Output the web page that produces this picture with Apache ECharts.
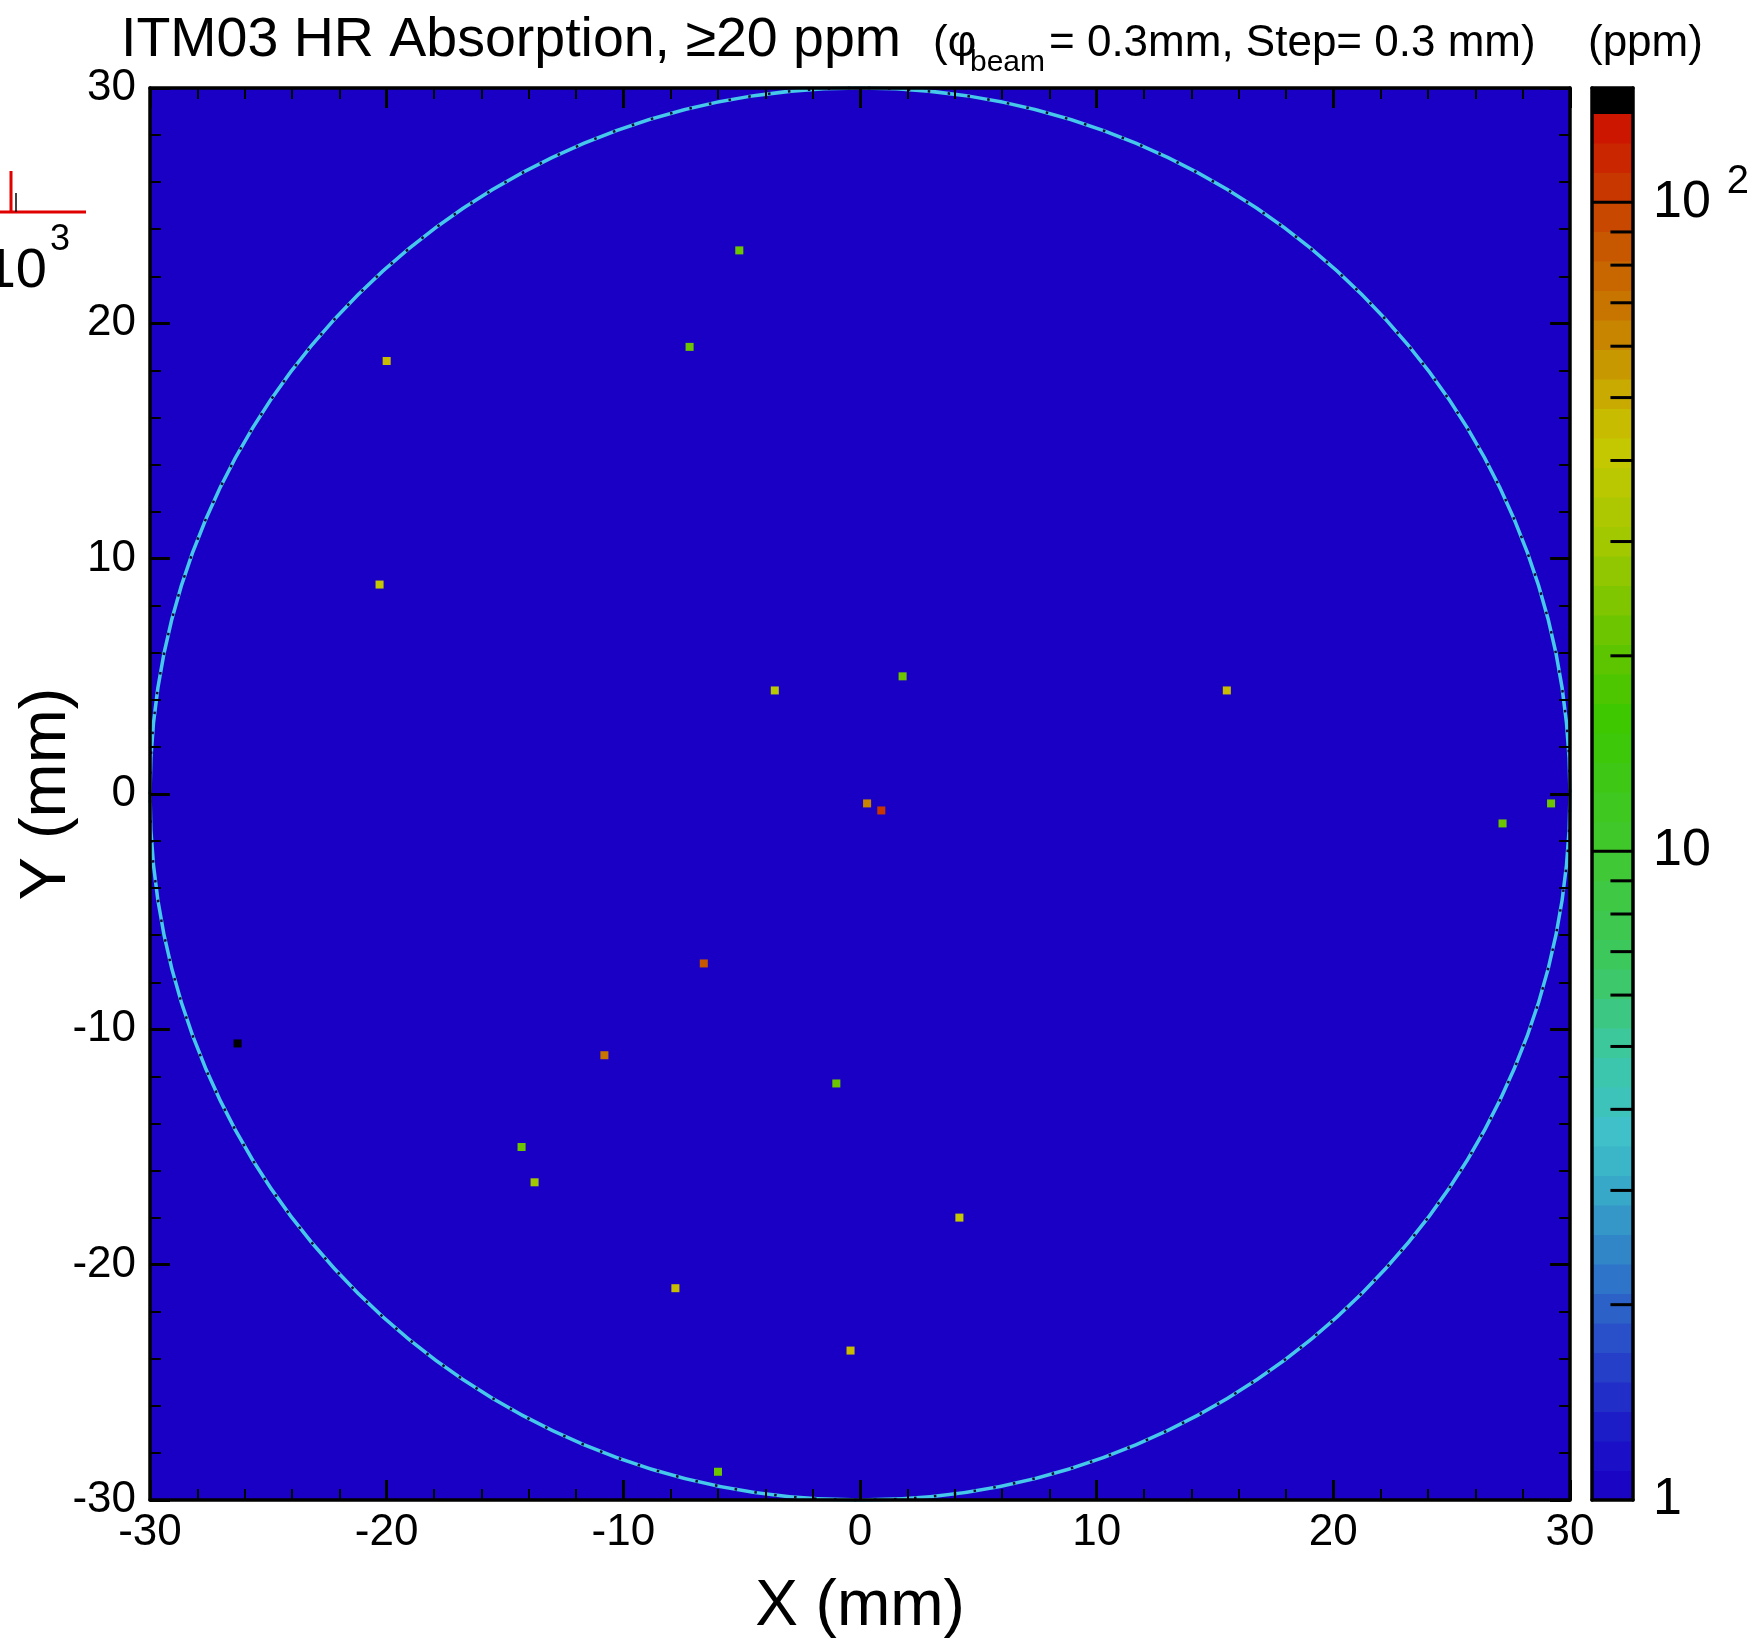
<!DOCTYPE html>
<html>
<head>
<meta charset="utf-8">
<script src="https://cdn.jsdelivr.net/npm/echarts@6/dist/echarts.min.js"></script>
<style>
html, body { margin: 0; padding: 0; background: #fff; }
#main { width: 1763px; height: 1639px; }
</style>
</head>
<body>
<div id="main"></div>
<script>
// hot spots (mm, mm, ppm)
var spotX   = [-5.1, -7.2, -20.0, -20.3, -3.6, 1.8, 15.5, 0.3, 0.9, 27.15, 29.2, -6.6, -26.3, -10.8, -1.0, -14.3, -13.75, 4.2, -7.8, -0.4, -6.0];
var spotY   = [23.1, 19.0, 18.4, 8.9, 4.4, 5.0, 4.4, -0.4, -0.7, -1.25, -0.4, -7.2, -10.6, -11.1, -12.3, -15.0, -16.5, -18.0, -21.0, -23.65, -28.8];
var spotPpm = [21, 21, 44, 43, 37, 21, 47, 62, 108, 22, 21, 88, 160, 68, 21, 21, 30, 43, 44, 47, 21];

// optic edge: centre x, centre y, radius (mm)
var rimCircle = [[0, 0, 30]];

// colour scale (ppm)
var ppmMin = 1, ppmMax = 150;
var cbMajor = [10, 100];
var cbMinor = [2, 3, 4, 5, 6, 7, 8, 9, 20, 30, 40, 50, 60, 70, 80, 90];

var cellMm = 0.34;
var FONT = 'Liberation Sans, Arial, Helvetica, sans-serif';

// palette, stepped like the ROOT colour bar
var palStops = [
	[0.00, '#1a00c4'], [0.10, '#1c18c8'], [0.23, '#2848c8'], [0.37, '#3080c8'],
	[0.50, '#38b0c8'], [0.57, '#40c0c8'], [0.68, '#3cc8a8'], [0.81, '#3cc864'],
	[1.00, '#40c830'], [1.20, '#3cc800'], [1.32, '#64c400'], [1.47, '#a0c800'],
	[1.63, '#c8c800'], [1.75, '#c89800'], [1.83, '#c87800'], [1.91, '#c86000'],
	[2.00, '#c84000'], [2.13, '#cc1000']
];
var palTop = 2.137, palBands = 47, palStep = palTop / palBands;

function hex2rgb(h) {
	return [parseInt(h.substr(1, 2), 16), parseInt(h.substr(3, 2), 16), parseInt(h.substr(5, 2), 16)];
}
function interp(lg) {
	if (lg <= palStops[0][0]) return palStops[0][1];
	for (var i = 1; i < palStops.length; i++) {
		if (lg <= palStops[i][0]) {
			var a = palStops[i - 1], b = palStops[i];
			var t = (lg - a[0]) / (b[0] - a[0]);
			var ca = hex2rgb(a[1]), cb = hex2rgb(b[1]);
			return 'rgb(' + [0, 1, 2].map(function(k) { return Math.round(ca[k] + (cb[k] - ca[k]) * t); }).join(',') + ')';
		}
	}
	return palStops[palStops.length - 1][1];
}
function palColor(lg) {
	if (lg >= palTop) return '#000000';
	var k = Math.max(0, Math.min(palBands - 1, Math.floor(lg / palStep)));
	return interp((k + 0.5) * palStep);
}

var cbBands = [];
for (var k = 0; k < palBands; k++) {
	cbBands.push([0, Math.pow(10, k * palStep), Math.pow(10, (k + 1) * palStep)]);
}
cbBands.push([0, Math.pow(10, palTop), ppmMax]);

var frame = { show: true, onZero: false, lineStyle: { color: '#000', width: 3.5 } };

function mainX(pos, labels) {
	return {
		type: 'value', gridIndex: 0, position: pos, min: -30, max: 30, interval: 10, z: 10,
		axisLine: frame,
		axisTick: { show: true, inside: true, length: 20, lineStyle: { color: '#000', width: 3 } },
		minorTick: { show: true, splitNumber: 5, length: 11, lineStyle: { color: '#000', width: 2 } },
		splitLine: { show: false },
		axisLabel: { show: labels, color: '#000', fontSize: 44, fontFamily: FONT, margin: 11 }
	};
}
function mainY(pos, labels) {
	var a = mainX(pos, labels);
	a.axisLabel.margin = 14;
	return a;
}
function cbX(pos) {
	return {
		type: 'value', gridIndex: 1, position: pos, min: 0, max: 1, z: 10,
		axisLine: frame, axisTick: { show: false }, axisLabel: { show: false }, splitLine: { show: false }
	};
}
function cbY(pos, labels) {
	return {
		type: 'log', logBase: 10, gridIndex: 1, position: pos, min: ppmMin, max: ppmMax, z: 10,
		axisLine: frame, axisTick: { show: false }, splitLine: { show: false }, minorTick: { show: false },
		axisLabel: {
			show: labels, color: '#000', fontSize: 52, fontFamily: FONT, margin: 20,
			showMaxLabel: false,
			formatter: function(v) {
				var l = Math.log10(v);
				if (Math.abs(l - Math.round(l)) > 1e-6) return '';
				l = Math.round(l);
				if (l === 0) return '1';
				if (l === 1) return '10';
				return '{b|10}{s|' + l + '}';
			},
			rich: {
				b: { fontSize: 52, lineHeight: 90, fontFamily: FONT, color: '#000' },
				s: { fontSize: 40, lineHeight: 40, verticalAlign: 'top', padding: [5, 0, 0, 16], fontFamily: FONT, color: '#000' }
			}
		}
	};
}

var xa0 = mainX('bottom', true);
xa0.name = 'X (mm)';
xa0.nameLocation = 'middle';
xa0.nameGap = 75;
xa0.nameMoveOverlap = false;
xa0.nameTextStyle = { fontSize: 64, fontFamily: FONT, color: '#000' };
var ya0 = mainY('left', true);
ya0.name = 'Y (mm)';
ya0.nameLocation = 'middle';
ya0.nameGap = 70;
ya0.nameMoveOverlap = false;
ya0.nameTextStyle = { fontSize: 65, fontFamily: FONT, color: '#000' };

function txt(x, y, s, size, align) {
	return {
		type: 'text', x: x, y: y, silent: true,
		style: { text: s, fontSize: size, fontFamily: FONT, fill: '#000', align: align || 'left', verticalAlign: 'middle' }
	};
}

var option = {
	animation: false,
	backgroundColor: '#ffffff',
	grid: [
		{ left: 150, top: 88, width: 1420, height: 1412, show: true, backgroundColor: '#1a00c4', borderWidth: 0, outerBoundsMode: 'none' },
		{ left: 1592, top: 88, width: 41, height: 1412, show: false, outerBoundsMode: 'none' }
	],
	xAxis: [xa0, mainX('top', false), cbX('bottom'), cbX('top')],
	yAxis: [ya0, mainY('right', false), cbY('left', false), cbY('right', true)],
	series: [{
		type: 'custom',
		xAxisIndex: 0, yAxisIndex: 0, z: 3, silent: true,
		data: spotX.map(function(x, i) { return [x, spotY[i], spotPpm[i]]; }),
		renderItem: function(params, api) {
			var c = api.coord([api.value(0), api.value(1)]);
			var s = api.size([cellMm, cellMm]);
			return {
				type: 'rect',
				shape: { x: c[0] - s[0] / 2, y: c[1] - s[1] / 2, width: s[0], height: s[1] },
				style: { fill: palColor(Math.log10(api.value(2))) }
			};
		}
	}, {
		type: 'custom',
		xAxisIndex: 0, yAxisIndex: 0, z: 2, silent: true,
		data: rimCircle,
		renderItem: function(params, api) {
			var c = api.coord([api.value(0), api.value(1)]);
			var r = api.size([api.value(2), api.value(2)]);
			var shape = { cx: c[0], cy: c[1], rx: r[0], ry: r[1] };
			return {
				type: 'group',
				children: [
					{ type: 'ellipse', shape: shape, style: { fill: null, stroke: '#46c8ea', lineWidth: 3.5 } },
					{ type: 'ellipse', shape: shape, style: { fill: null, stroke: '#101030', lineWidth: 2.5, lineDash: [2.5, 17.5] } }
				]
			};
		}
	}, {
		// colour bar bands
		type: 'custom',
		xAxisIndex: 2, yAxisIndex: 3, z: 2, silent: true,
		data: cbBands,
		encode: { x: 0, y: [1, 2] },
		renderItem: function(params, api) {
			var lo = api.value(1), hi = api.value(2);
			var p0 = api.coord([0, lo]), p1 = api.coord([1, hi]);
			var mid = (Math.log10(lo) + Math.log10(hi)) / 2;
			return {
				type: 'rect',
				shape: { x: p0[0], y: p1[1], width: p1[0] - p0[0], height: p0[1] - p1[1] + 0.6 },
				style: { fill: palColor(mid) }
			};
		}
	}, {
		// colour bar minor ticks
		type: 'custom',
		xAxisIndex: 2, yAxisIndex: 3, z: 4, silent: true,
		data: cbMinor.map(function(v) { return [1, v]; }),
		renderItem: function(params, api) {
			var a = api.coord([0.45, api.value(1)]), b = api.coord([1, api.value(1)]);
			return { type: 'line', shape: { x1: a[0], y1: a[1], x2: b[0], y2: b[1] }, style: { stroke: '#000', lineWidth: 3 } };
		}
	}, {
		// colour bar decade lines
		type: 'custom',
		xAxisIndex: 2, yAxisIndex: 3, z: 4, silent: true,
		data: cbMajor.map(function(v) { return [1, v]; }),
		renderItem: function(params, api) {
			var a = api.coord([0, api.value(1)]), b = api.coord([1, api.value(1)]);
			return { type: 'line', shape: { x1: a[0], y1: a[1], x2: b[0], y2: b[1] }, style: { stroke: '#000', lineWidth: 3 } };
		}
	}],
	graphic: [
		txt(121, 41, 'ITM03 HR Absorption, \u226520 ppm', 55.5),
		txt(933, 44, '(\u03c6', 44),
		txt(970, 63, 'beam', 30),
		txt(1049, 44, '= 0.3mm, Step= 0.3 mm)', 44),
		txt(1588, 44, '(ppm)', 44),
		// piece of the neighbouring plot peeking in at the left
		{ type: 'line', silent: true, shape: { x1: 0, y1: 212, x2: 86, y2: 212 }, style: { stroke: '#e00000', lineWidth: 3 } },
		{ type: 'line', silent: true, shape: { x1: 11, y1: 171, x2: 11, y2: 212 }, style: { stroke: '#e00000', lineWidth: 3 } },
		{ type: 'line', silent: true, shape: { x1: 16, y1: 193, x2: 16, y2: 212 }, style: { stroke: '#000', lineWidth: 1.5 } },
		txt(47, 272, '10', 56, 'right'),
		txt(50, 240, '3', 36)
	]
};

var my = echarts.init(document.getElementById('main'));
my.setOption(option);
</script>
</body>
</html>
